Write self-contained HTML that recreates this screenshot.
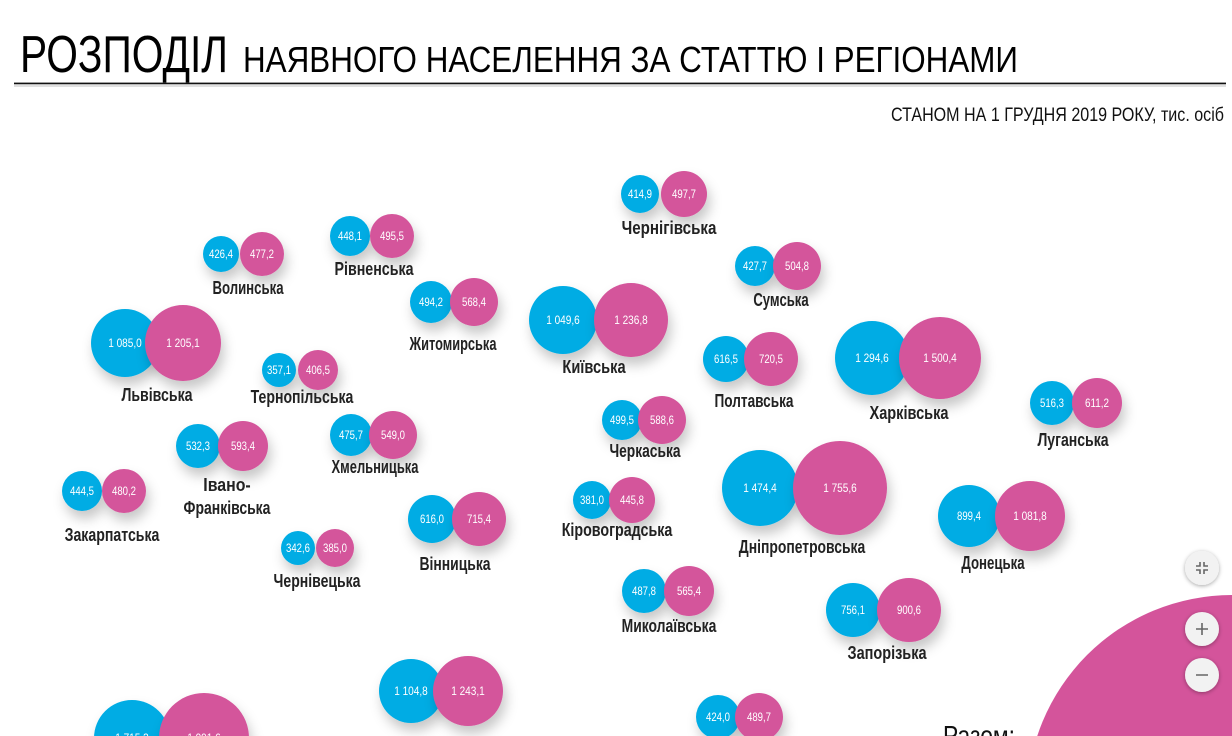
<!DOCTYPE html>
<html><head><meta charset="utf-8"><style>
html,body{margin:0;padding:0;background:#fff;width:1232px;height:736px;overflow:hidden}
svg{display:block;overflow:hidden}
text{font-family:"Liberation Sans","DejaVu Sans",sans-serif}
</style></head><body>
<svg id="s" width="1232" height="736" viewBox="0 0 1232 736" xmlns="http://www.w3.org/2000/svg">
<defs>
<filter id="sh" x="-50%" y="-50%" width="200%" height="200%"><feDropShadow dx="3" dy="8" stdDeviation="6" flood-color="#000" flood-opacity="0.22"/></filter>
<filter id="sh2" x="-50%" y="-50%" width="200%" height="200%"><feDropShadow dx="0" dy="1" stdDeviation="2" flood-color="#000" flood-opacity="0.35"/></filter>
</defs>
<text x="20" y="72" font-size="52" textLength="208" lengthAdjust="spacingAndGlyphs" fill="#000">РОЗПОДІЛ</text>
<text x="243" y="72" font-size="36" textLength="775" lengthAdjust="spacingAndGlyphs" fill="#000">НАЯВНОГО НАСЕЛЕННЯ ЗА СТАТТЮ І РЕГІОНАМИ</text>
<rect x="14" y="84" width="1212" height="3" fill="#000" opacity="0.12"/>
<rect x="14" y="82.6" width="1212" height="1.6" fill="#111"/>
<text x="1224" y="121" font-size="19" text-anchor="end" textLength="333" lengthAdjust="spacingAndGlyphs" fill="#111">СТАНОМ НА 1 ГРУДНЯ 2019 РОКУ, тис. осіб</text>
<g id="b"></g>
<circle cx="1232" cy="800" r="205" fill="#d4549b"/>
<text x="943" y="745" font-size="28" textLength="72" lengthAdjust="spacingAndGlyphs" fill="#111">Разом:</text>
<g filter="url(#sh2)" fill="#f2f2f2">
<circle cx="1202" cy="568" r="17"/><circle cx="1202" cy="629" r="17"/><circle cx="1202" cy="675" r="17"/>
</g>
<g stroke="#666" stroke-width="1.6" fill="none">
<path d="M1196 566h4v-4M1204 562v4h4M1196 570h4v4M1204 574v-4h4"/>
<path d="M1202 623v12M1196 629h12M1196 675h12"/>
</g>
</svg>
<script>
var d=[
["Волинська",221,254,18,262,22,"426,4","477,2",248,288],
["Рівненська",350,236,20,392,22,"448,1","495,5",374,269],
["Чернігівська",640,194,19,684,23,"414,9","497,7",669,228],
["Сумська",755,266,20,797,24,"427,7","504,8",781,300],
["Житомирська",431,302,21,474,24,"494,2","568,4",453,344],
["Київська",563,320,34,631,37,"1 049,6","1 236,8",594,367],
["Львівська",125,343,34,183,38,"1 085,0","1 205,1",157,395],
["Тернопільська",279,370,17,318,20,"357,1","406,5",302,397],
["Полтавська",726,359,23,771,27,"616,5","720,5",754,401],
["Харківська",872,358,37,940,41,"1 294,6","1 500,4",909,413],
["Луганська",1052,403,22,1097,25,"516,3","611,2",1073,440],
["Черкаська",622,420,20,662,24,"499,5","588,6",645,451],
["Хмельницька",351,435,21,393,24,"475,7","549,0",375,467],
["Івано-|Франківська",198,446,22,243,25,"532,3","593,4",227,485],
["Закарпатська",82,491,20,124,22,"444,5","480,2",112,535],
["Кіровоградська",592,500,19,632,23,"381,0","445,8",617,530],
["Дніпропетровська",760,488,38,840,47,"1 474,4","1 755,6",802,547],
["Донецька",969,516,31,1030,35,"899,4","1 081,8",993,563],
["Вінницька",432,519,24,479,27,"616,0","715,4",455,564],
["Чернівецька",298,548,17,335,19,"342,6","385,0",317,581],
["Миколаївська",644,591,22,689,25,"487,8","565,4",669,626],
["Запорізька",853,610,27,909,32,"756,1","900,6",887,653],
["",411,691,32,468,35,"1 104,8","1 243,1",0,0],
["",132,738,38,204,45,"1 715,3","1 991,6",0,0],
["",718,717,22,759,24,"424,0","489,7",0,0]
];
var h="";
d.forEach(function(a){
 var cy=a[2];
 h+='<circle cx="'+a[1]+'" cy="'+cy+'" r="'+a[3]+'" fill="#00ace4" filter="url(#sh)"/>';
 h+='<circle cx="'+a[4]+'" cy="'+cy+'" r="'+a[5]+'" fill="#d4549b" filter="url(#sh)"/>';
 function num(x,t){var w=t.length*4.8;return '<text x="'+x+'" y="'+(cy+4)+'" font-size="12" fill="#fff" text-anchor="middle" textLength="'+w+'" lengthAdjust="spacingAndGlyphs">'+t+'</text>';}
 h+=num(a[1],a[6])+num(a[4],a[7]);
 if(a[0]){
  var parts=a[0].split("|");
  parts.forEach(function(p,i){
   var w=p.length*7.9;
   h+='<text x="'+a[8]+'" y="'+(a[9]+6+i*23)+'" font-size="18" font-weight="bold" fill="#222" text-anchor="middle" textLength="'+w+'" lengthAdjust="spacingAndGlyphs">'+p+'</text>';
  });
 }
});
document.getElementById("b").innerHTML=h;
</script>
</body></html>
